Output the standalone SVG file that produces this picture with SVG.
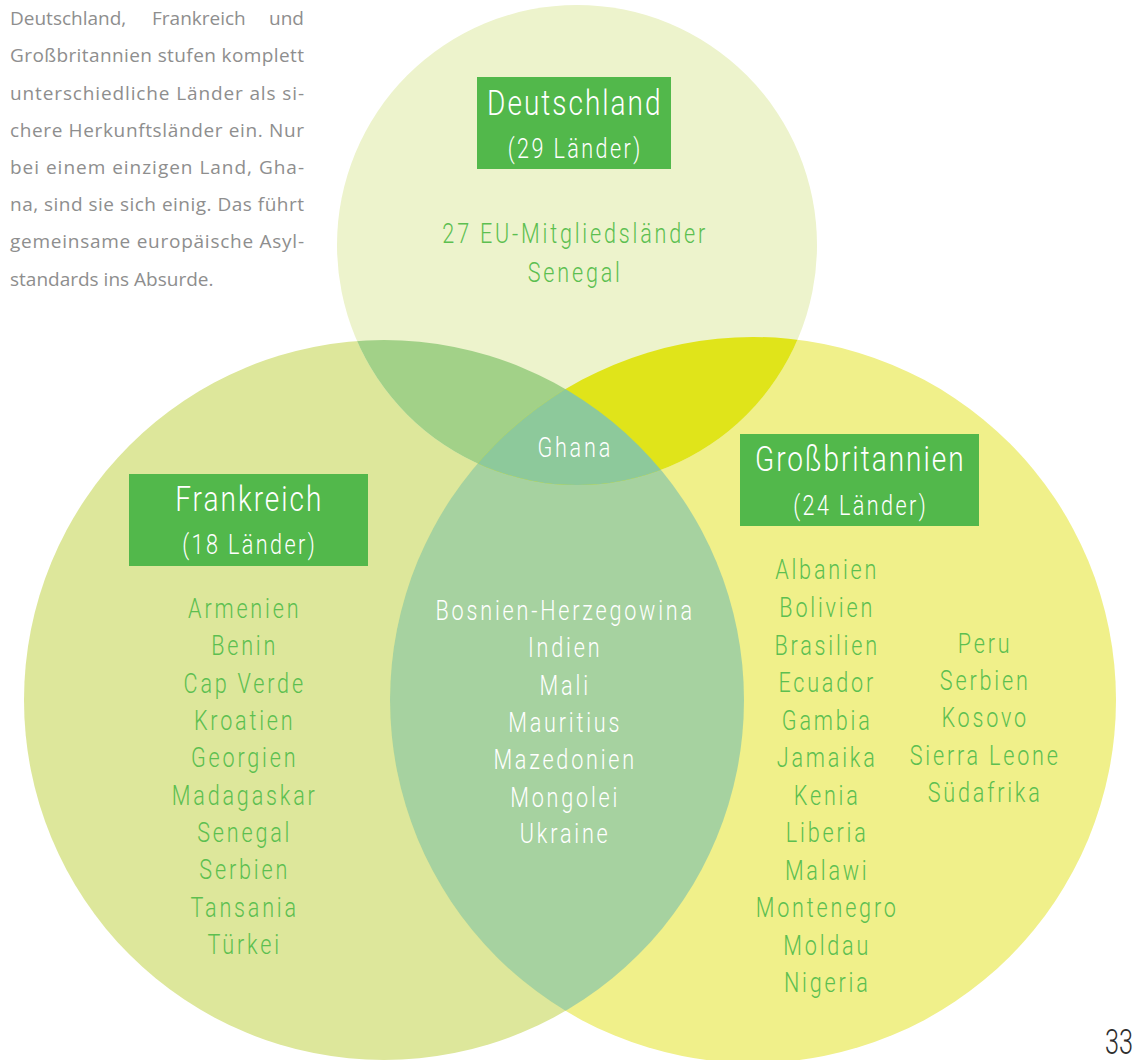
<svg xmlns="http://www.w3.org/2000/svg" width="1135" height="1060" viewBox="0 0 1135 1060">
<style>
.para{font-family:"Open Sans","DejaVu Sans",sans-serif;font-size:19px;fill:#8e8e8e}
.hd{font-family:Roboto,"Noto Sans",sans-serif;font-weight:300;font-size:35px;letter-spacing:2.5px;fill:#ffffff;text-anchor:middle}
.sub{font-family:Roboto,"Noto Sans",sans-serif;font-weight:300;font-size:27px;letter-spacing:3px;fill:#ffffff;text-anchor:middle}
.li{font-family:Roboto,"Noto Sans",sans-serif;font-weight:300;font-size:27px;letter-spacing:3.5px;fill:#5cbf50;text-anchor:middle}
.lw{font-family:Roboto,"Noto Sans",sans-serif;font-weight:300;font-size:27px;letter-spacing:3.5px;fill:#ffffff;text-anchor:middle}
.box{fill:#52b84b}
.pg{font-family:Roboto,"Noto Sans",sans-serif;font-weight:300;font-size:35px;fill:#2e2e2e;text-anchor:end}
</style>
<defs>
<clipPath id="cT"><circle cx="577" cy="245" r="240"/></clipPath>
<clipPath id="cL"><circle cx="384" cy="700" r="360"/></clipPath>
<clipPath id="cR"><circle cx="753" cy="700" r="363"/></clipPath>
</defs>
<rect width="1135" height="1060" fill="#ffffff"/>

<g id="circles">
<circle cx="384" cy="700" r="360" fill="#dde79b"/>
<circle cx="753" cy="700" r="363" fill="#f0f08a"/>
<circle cx="577" cy="245" r="240" fill="#edf3cc"/>
<circle cx="753" cy="700" r="363" fill="#a6d2a0" clip-path="url(#cL)"/>
<circle cx="384" cy="700" r="360" fill="#a2d188" clip-path="url(#cT)"/>
<circle cx="753" cy="700" r="363" fill="#e0e41a" clip-path="url(#cT)"/>
<g clip-path="url(#cR)"><circle cx="577" cy="245" r="240" fill="#8dc99b" clip-path="url(#cL)"/></g>
</g>

<g id="intro" class="para">
<text x="10" y="25">Deutschland,</text><text x="152" y="25">Frankreich</text><text x="304" y="25" text-anchor="end">und</text>
<text x="10" y="62" textLength="294" lengthAdjust="spacing">Großbritannien stufen komplett</text>
<text x="10" y="99.5" textLength="294" lengthAdjust="spacing">unterschiedliche Länder als si-</text>
<text x="10" y="136.5" textLength="294" lengthAdjust="spacing">chere Herkunftsländer ein. Nur</text>
<text x="10" y="174" textLength="294" lengthAdjust="spacing">bei einem einzigen Land, Gha-</text>
<text x="10" y="211" textLength="294" lengthAdjust="spacing">na, sind sie sich einig. Das führt</text>
<text x="10" y="248" textLength="294" lengthAdjust="spacing">gemeinsame europäische Asyl-</text>
<text x="10" y="285.5">standards ins Absurde.</text>
</g>

<g id="deutschland">
<rect class="box" x="477" y="77" width="194" height="92"/>
<g transform="translate(574,0) scale(0.8,1)">
<text class="hd" x="1" y="115">Deutschland</text>
<text class="sub" x="1.5" y="158">(29 Länder)</text>
<text class="li" x="1.5" y="243">27 EU-Mitgliedsländer</text>
<text class="li" x="1.5" y="282">Senegal</text>
</g>
</g>

<g id="frankreich">
<rect class="box" x="129" y="474" width="239" height="92"/>
<g transform="translate(248.5,0) scale(0.8,1)">
<text class="hd" x="1" y="511">Frankreich</text>
<text class="sub" x="1.5" y="554">(18 Länder)</text>
</g>
<g transform="translate(243.5,0) scale(0.8,1)">
<text class="li" x="1.5" y="618">Armenien</text>
<text class="li" x="1.5" y="655">Benin</text>
<text class="li" x="1.5" y="693">Cap Verde</text>
<text class="li" x="1.5" y="730">Kroatien</text>
<text class="li" x="1.5" y="767">Georgien</text>
<text class="li" x="1.5" y="805">Madagaskar</text>
<text class="li" x="1.5" y="842">Senegal</text>
<text class="li" x="1.5" y="879">Serbien</text>
<text class="li" x="1.5" y="917">Tansania</text>
<text class="li" x="1.5" y="954">Türkei</text>
</g>
</g>

<g id="grossbritannien">
<rect class="box" x="740" y="434" width="239" height="92"/>
<g transform="translate(859.5,0) scale(0.8,1)">
<text class="hd" x="1" y="471">Großbritannien</text>
<text class="sub" x="1.5" y="515">(24 Länder)</text>
</g>
<g transform="translate(826,0) scale(0.8,1)">
<text class="li" x="1.5" y="579">Albanien</text>
<text class="li" x="1.5" y="617">Bolivien</text>
<text class="li" x="1.5" y="655">Brasilien</text>
<text class="li" x="1.5" y="692">Ecuador</text>
<text class="li" x="1.5" y="730">Gambia</text>
<text class="li" x="1.5" y="767">Jamaika</text>
<text class="li" x="1.5" y="805">Kenia</text>
<text class="li" x="1.5" y="842">Liberia</text>
<text class="li" x="1.5" y="880">Malawi</text>
<text class="li" x="1.5" y="917">Montenegro</text>
<text class="li" x="1.5" y="955">Moldau</text>
<text class="li" x="1.5" y="992">Nigeria</text>
</g>
<g transform="translate(984,0) scale(0.8,1)">
<text class="li" x="1.5" y="653">Peru</text>
<text class="li" x="1.5" y="690">Serbien</text>
<text class="li" x="1.5" y="727">Kosovo</text>
<text class="li" x="1.5" y="765">Sierra Leone</text>
<text class="li" x="1.5" y="802">Südafrika</text>
</g>
</g>

<g id="frankreich-grossbritannien">
<g transform="translate(564,0) scale(0.8,1)">
<text class="lw" x="1.5" y="620">Bosnien-Herzegowina</text>
<text class="lw" x="1.5" y="657">Indien</text>
<text class="lw" x="1.5" y="695">Mali</text>
<text class="lw" x="1.5" y="732">Mauritius</text>
<text class="lw" x="1.5" y="769">Mazedonien</text>
<text class="lw" x="1.5" y="807">Mongolei</text>
<text class="lw" x="1.5" y="843">Ukraine</text>
</g>
</g>

<g id="alle-drei">
<g transform="translate(574,0) scale(0.8,1)">
<text class="lw" x="1.5" y="457">Ghana</text>
</g>
</g>

<g id="connectors"></g>

<g id="seitenzahl" transform="translate(1133,0) scale(0.72,1)">
<text class="pg" x="0" y="1054">33</text>
</g>
</svg>
